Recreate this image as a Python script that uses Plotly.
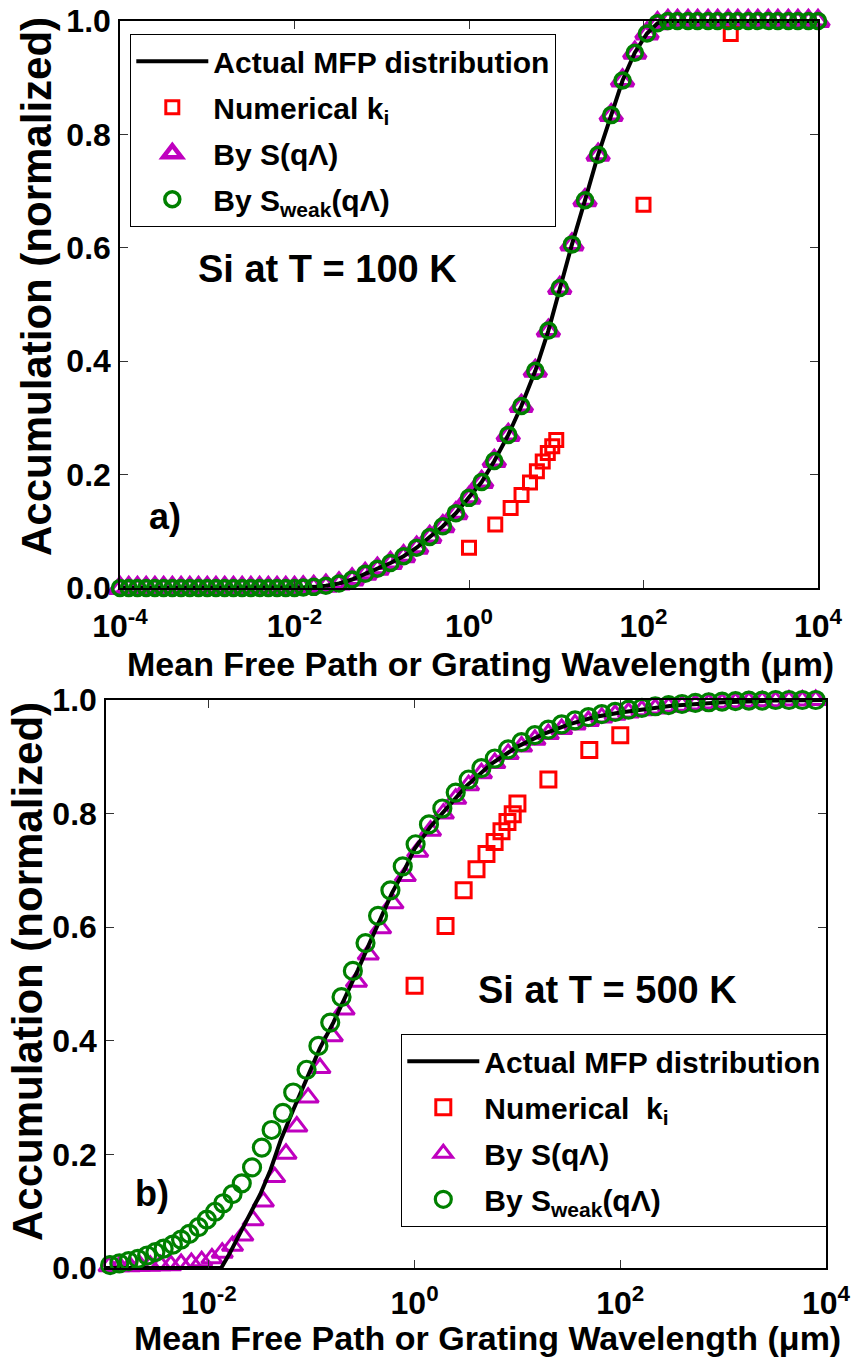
import plotly.graph_objects as go

# ---------------- Panel a) Si at T = 100 K ----------------
# log10 of MFP / grating wavelength (um) for the S(qΛ), S_weak(qΛ) and actual curves
a_exp = [-4.00, -3.90, -3.80, -3.70, -3.60, -3.50, -3.40, -3.30, -3.20, -3.10,
         -3.00, -2.90, -2.80, -2.70, -2.60, -2.50, -2.40, -2.30, -2.20, -2.10,
         -2.00, -1.90, -1.78, -1.64, -1.49, -1.34, -1.19, -1.05, -0.90, -0.75,
         -0.60, -0.45, -0.30, -0.15, 0.00, 0.145, 0.29, 0.45, 0.60, 0.76,
         0.91, 1.04, 1.18, 1.33, 1.48, 1.63, 1.76, 1.90, 2.04, 2.16,
         2.28, 2.39, 2.51, 2.62, 2.74, 2.85, 2.97, 3.08, 3.20, 3.31,
         3.43, 3.54, 3.66, 3.77, 3.89, 4.00]
a_accum = [0.0, 0.0, 0.0, 0.0, 0.0, 0.0, 0.0, 0.0, 0.0, 0.0,
           0.0, 0.0, 0.0, 0.0, 0.0, 0.0, 0.0, 0.0, 0.0, 0.0,
           0.0, 0.001, 0.002, 0.004, 0.008, 0.015, 0.025, 0.034, 0.044, 0.056,
           0.071, 0.090, 0.109, 0.132, 0.159, 0.187, 0.224, 0.270, 0.321, 0.383,
           0.454, 0.529, 0.606, 0.684, 0.764, 0.834, 0.895, 0.944, 0.978, 0.996,
           1.0, 1.0, 1.0, 1.0, 1.0, 1.0, 1.0, 1.0, 1.0, 1.0,
           1.0, 1.0, 1.0, 1.0, 1.0, 1.0]
a_num_x = [1, 2, 3, 4, 5, 6, 7, 8, 9, 10, 100, 1000]
a_num_y = [0.071, 0.112, 0.141, 0.164, 0.186, 0.206, 0.223, 0.238, 0.250, 0.261, 0.676, 0.977]

# ---------------- Panel b) Si at T = 500 K ----------------
b_line_exp = [-3.00, -2.50, -2.00, -1.88, -1.80, -1.70, -1.60, -1.50, -1.40, -1.30,
              -1.18, -1.05, -0.92, -0.79, -0.67, -0.55, -0.43, -0.33, -0.22, -0.10,
              0.00, 0.15, 0.30, 0.50, 0.75, 1.00, 1.25, 1.50, 1.75, 2.00,
              2.50, 3.00, 3.50, 4.00]
b_line_y = [0.0, 0.0, 0.0, 0.0, 0.025, 0.060, 0.095, 0.130, 0.173, 0.226,
            0.278, 0.334, 0.387, 0.432, 0.478, 0.525, 0.575, 0.615, 0.660, 0.700,
            0.738, 0.776, 0.808, 0.848, 0.888, 0.918, 0.940, 0.957, 0.970, 0.978,
            0.990, 0.996, 0.999, 1.0]

b_s_exp = [-2.97, -2.87, -2.77, -2.67, -2.57, -2.47, -2.37, -2.27, -2.17, -2.07,
           -1.97, -1.87, -1.77, -1.67, -1.57, -1.47, -1.36, -1.25, -1.145, -1.035,
           -0.92, -0.80, -0.685, -0.565, -0.45, -0.33, -0.21, -0.09, 0.03, 0.155,
           0.28, 0.40, 0.525, 0.65, 0.78, 0.91, 1.04, 1.17, 1.30, 1.43,
           1.56, 1.69, 1.82, 1.95, 2.08, 2.21, 2.34, 2.47, 2.60, 2.73,
           2.86, 2.99, 3.12, 3.25, 3.38, 3.51, 3.64, 3.77, 3.90]
b_s_y = [0.003, 0.003, 0.003, 0.004, 0.004, 0.005, 0.005, 0.007, 0.009, 0.012,
         0.017, 0.027, 0.039, 0.057, 0.084, 0.117, 0.160, 0.201, 0.249, 0.300,
         0.352, 0.408, 0.455, 0.504, 0.552, 0.598, 0.642, 0.690, 0.733, 0.770,
         0.800, 0.826, 0.850, 0.871, 0.889, 0.905, 0.918, 0.930, 0.940, 0.949,
         0.957, 0.963, 0.969, 0.974, 0.978, 0.982, 0.985, 0.988, 0.990, 0.992,
         0.994, 0.995, 0.996, 0.997, 0.998, 0.998, 0.999, 0.999, 1.0]

b_weak_exp = [-2.96, -2.87, -2.78, -2.69, -2.60, -2.52, -2.44, -2.35, -2.27, -2.19,
              -2.10, -2.02, -1.94, -1.86, -1.77, -1.68, -1.58, -1.485, -1.39, -1.28,
              -1.18, -1.05, -0.935, -0.82, -0.71, -0.60, -0.477, -0.355, -0.235, -0.115,
              0.01, 0.14, 0.27, 0.40, 0.525, 0.65, 0.78, 0.91, 1.04, 1.17,
              1.30, 1.43, 1.56, 1.69, 1.82, 1.95, 2.08, 2.21, 2.34, 2.47,
              2.60, 2.73, 2.86, 2.99, 3.12, 3.25, 3.38, 3.51, 3.64, 3.77, 3.90]
b_weak_y = [0.005, 0.008, 0.012, 0.016, 0.022, 0.028, 0.034, 0.041, 0.050, 0.060,
            0.072, 0.085, 0.099, 0.114, 0.130, 0.149, 0.177, 0.212, 0.243, 0.273,
            0.309, 0.349, 0.391, 0.432, 0.477, 0.523, 0.572, 0.620, 0.665, 0.707,
            0.746, 0.781, 0.809, 0.837, 0.860, 0.880, 0.897, 0.913, 0.926, 0.938,
            0.948, 0.957, 0.964, 0.970, 0.975, 0.979, 0.983, 0.986, 0.989, 0.991,
            0.993, 0.995, 0.996, 0.997, 0.998, 0.999, 0.999, 1.0, 1.0, 1.0, 1.0]

b_num_x = [1, 2, 3, 4, 5, 6, 7, 8, 9, 10, 20, 50, 100]
b_num_y = [0.497, 0.602, 0.665, 0.702, 0.729, 0.750, 0.769, 0.785, 0.799, 0.818, 0.860, 0.912, 0.938]

# tick labels
a_tickvals = [1e-4, 1e-2, 1, 1e2, 1e4]
a_ticktext = ["10<sup>-4</sup>", "10<sup>-2</sup>", "10<sup>0</sup>", "10<sup>2</sup>", "10<sup>4</sup>"]
b_tickvals = [1e-2, 1, 1e2, 1e4]
b_ticktext = ["10<sup>-2</sup>", "10<sup>0</sup>", "10<sup>2</sup>", "10<sup>4</sup>"]
y_tickvals = [0.0, 0.2, 0.4, 0.6, 0.8, 1.0]
y_ticktext = ["0.0", "0.2", "0.4", "0.6", "0.8", "1.0"]

names = ["Actual MFP distribution", "Numerical k<sub>i</sub>", "By S(qΛ)", "By S<sub>weak</sub>(qΛ)"]
names_b = ["Actual MFP distribution", "Numerical\u00a0 k<sub>i</sub>", "By S(qΛ)", "By S<sub>weak</sub>(qΛ)"]

W, H = 851, 1357
FONT = "Liberation Sans, Arial, Helvetica, sans-serif"
BLACK = "#000000"
RED = "#FF0000"
MAG = "#BF00BF"
GREEN = "#008000"


def pw(px):
    return px / W


def ph(py):
    return 1 - py / H


def tenpow(e):
    return [10 ** v for v in e]


fig = go.Figure()

# ---- panel a traces (draw order: triangles, line, squares, circles) ----
fig.add_trace(go.Scatter(x=tenpow(a_exp), y=a_accum, mode="markers", name=names[2],
                         marker=dict(symbol="triangle-up-open", size=19, color=MAG, line=dict(width=4.5, color=MAG)),
                         xaxis="x", yaxis="y", legend="legend", legendrank=3, legendgroup="a3", cliponaxis=False))
fig.add_trace(go.Scatter(x=tenpow(a_exp), y=a_accum, mode="lines", name=names[0],
                         line=dict(color=BLACK, width=4),
                         xaxis="x", yaxis="y", legend="legend", legendrank=1, legendgroup="a1", cliponaxis=False))
fig.add_trace(go.Scatter(x=a_num_x, y=a_num_y, mode="markers", name=names[1],
                         marker=dict(symbol="square-open", size=13, color=RED, line=dict(width=3, color=RED)),
                         xaxis="x", yaxis="y", legend="legend", legendrank=2, legendgroup="a2", cliponaxis=False))
fig.add_trace(go.Scatter(x=tenpow(a_exp), y=a_accum, mode="markers", name=names[3],
                         marker=dict(symbol="circle-open", size=15, color=GREEN, line=dict(width=3.5, color=GREEN)),
                         xaxis="x", yaxis="y", legend="legend", legendrank=4, legendgroup="a4", cliponaxis=False))

# ---- panel b traces ----
fig.add_trace(go.Scatter(x=tenpow(b_s_exp), y=b_s_y, mode="markers", name=names_b[2],
                         marker=dict(symbol="triangle-up-open", size=18, color=MAG, line=dict(width=3, color=MAG)),
                         xaxis="x2", yaxis="y2", legend="legend2", legendrank=3, legendgroup="b3", cliponaxis=False))
fig.add_trace(go.Scatter(x=tenpow(b_line_exp), y=b_line_y, mode="lines", name=names_b[0],
                         line=dict(color=BLACK, width=4),
                         xaxis="x2", yaxis="y2", legend="legend2", legendrank=1, legendgroup="b1", cliponaxis=False))
fig.add_trace(go.Scatter(x=b_num_x, y=b_num_y, mode="markers", name=names_b[1],
                         marker=dict(symbol="square-open", size=15, color=RED, line=dict(width=3, color=RED)),
                         xaxis="x2", yaxis="y2", legend="legend2", legendrank=2, legendgroup="b2", cliponaxis=False))
fig.add_trace(go.Scatter(x=tenpow(b_weak_exp), y=b_weak_y, mode="markers", name=names_b[3],
                         marker=dict(symbol="circle-open", size=17, color=GREEN, line=dict(width=3.2, color=GREEN)),
                         xaxis="x2", yaxis="y2", legend="legend2", legendrank=4, legendgroup="b4", cliponaxis=False))

tickfont = dict(family=FONT, size=32, color=BLACK, weight="bold")
axis_common = dict(showline=True, linecolor=BLACK, linewidth=1.5, mirror="allticks",
                   ticks="inside", ticklen=8, tickwidth=1.3, tickcolor="#333333",
                   showgrid=False, zeroline=False, tickfont=tickfont, automargin=False)

legend_font = dict(family=FONT, size=30, color=BLACK, weight="bold")
fig.update_layout(
    template="none",
    width=W, height=H,
    margin=dict(l=0, r=0, t=0, b=0, autoexpand=False),
    paper_bgcolor="white", plot_bgcolor="white",
    xaxis=dict(type="log", range=[-4, 4], domain=[pw(120), pw(818)], anchor="y",
               tickvals=a_tickvals, ticktext=a_ticktext, ticklabelstandoff=9, **axis_common),
    yaxis=dict(range=[0, 1], domain=[ph(588), ph(21)], anchor="x",
               tickvals=y_tickvals, ticktext=y_ticktext, ticklabelstandoff=1, **axis_common),
    xaxis2=dict(type="log", range=[-3, 4], domain=[pw(106), pw(826)], anchor="y2",
                tickvals=b_tickvals, ticktext=b_ticktext, ticklabelstandoff=6, **axis_common),
    yaxis2=dict(range=[0, 1], domain=[ph(1268), ph(700)], anchor="x2",
                tickvals=y_tickvals, ticktext=y_ticktext, ticklabelstandoff=1, **axis_common),
    legend=dict(x=pw(130), y=ph(34), xanchor="left", yanchor="top",
                bordercolor=BLACK, borderwidth=1.3, bgcolor="white",
                font=legend_font, itemwidth=72, tracegroupgap=4),
    legend2=dict(x=pw(401), y=ph(1034), xanchor="left", yanchor="top",
                 bordercolor=BLACK, borderwidth=1.3, bgcolor="white",
                 font=legend_font, itemwidth=72, tracegroupgap=4),
    showlegend=True,
)

ann_font = lambda s: dict(family=FONT, size=s, color=BLACK, weight="bold")
annotations = [
    dict(text="Accumulation (normalized)", x=pw(37), y=ph(287), textangle=-90, font=ann_font(42)),
    dict(text="Accumulation (normalized)", x=pw(27), y=ph(972), textangle=-90, font=ann_font(42)),
    dict(text="Mean Free Path or Grating Wavelength (μm)", x=pw(480), y=ph(664), font=ann_font(34)),
    dict(text="Mean Free Path or Grating Wavelength (μm)", x=pw(487), y=ph(1338), font=ann_font(34)),
    dict(text="Si at T = 100 K", x=pw(327), y=ph(269), font=ann_font(38)),
    dict(text="a)", x=pw(165), y=ph(516), font=ann_font(36)),
    dict(text="Si at T = 500 K", x=pw(607), y=ph(990), font=ann_font(38)),
    dict(text="b)", x=pw(152), y=ph(1193), font=ann_font(36)),
]
for a in annotations:
    a.update(xref="paper", yref="paper", showarrow=False, xanchor="center", yanchor="middle")
fig.update_layout(annotations=annotations)

fig.write_html("out.html",
               config={"displayModeBar": False},
               post_script="document.body.style.margin='0px';document.body.style.padding='0px';")
